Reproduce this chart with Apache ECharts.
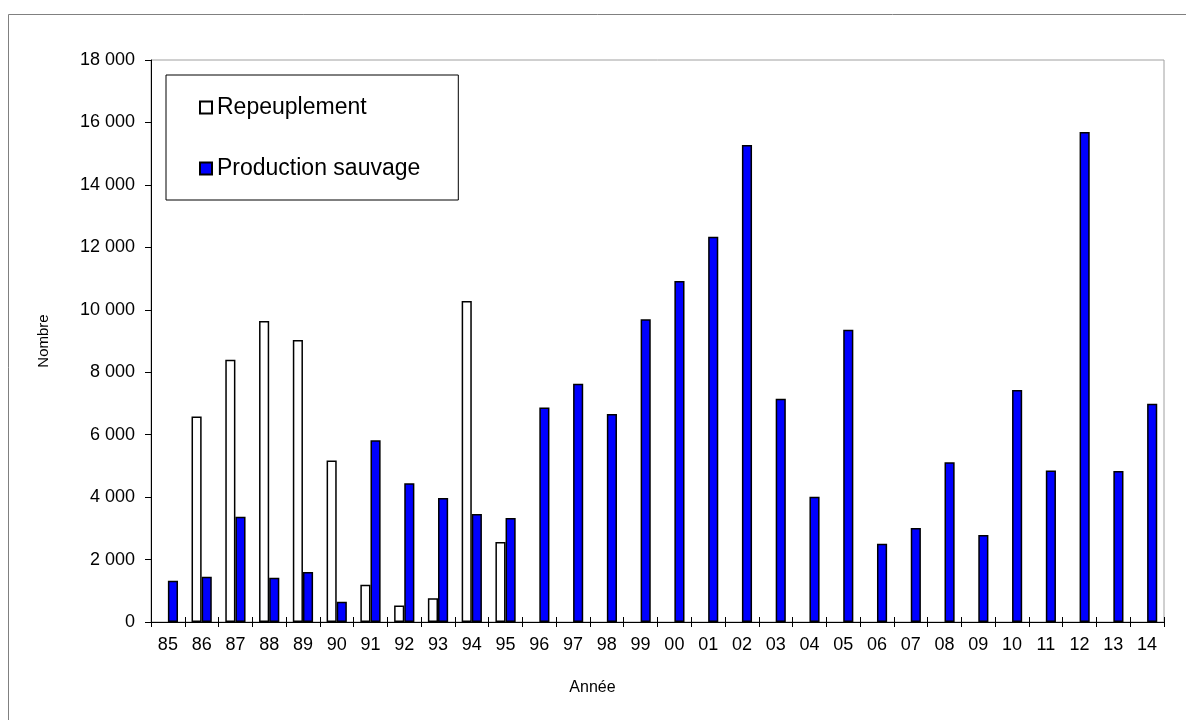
<!DOCTYPE html>
<html>
<head>
<meta charset="utf-8">
<script src="https://cdn.jsdelivr.net/npm/echarts@6/dist/echarts.min.js"></script>
<style>
  html, body { margin: 0; padding: 0; background: #fff; }
  #main { width: 1186px; height: 720px; }
</style>
</head>
<body>
<div id="main"></div>
<script>
// années (axe des x)
const annees = ['85', '86', '87', '88', '89', '90', '91', '92', '93', '94', '95', '96', '97', '98', '99',
  '00', '01', '02', '03', '04', '05', '06', '07', '08', '09', '10', '11', '12', '13', '14']
// repeuplement (absent après 95)
const repeuplement = [null, 6580, 8400, 9640, 9030, 5170, 1190, 530, 760, 10280, 2560,
  null, null, null, null, null, null, null, null, null, null, null, null, null, null, null, null, null, null, null]
// production sauvage
const productionSauvage = [1320, 1450, 3370, 1420, 1600, 650, 5820, 4440, 3970, 3460, 3330,
  6870, 7630, 6660, 9700, 10920, 12340, 15280, 7150, 4010, 9360, 2510, 3010, 5120, 2790,
  7430, 4850, 15690, 4840, 6990]

const font = 'Liberation Sans, Arial, sans-serif'
// séparateur de milliers avec espace
const fmt = v => String(v).replace(/\B(?=(\d{3})+(?!\d))/g, ' ')

const myChart = echarts.init(document.getElementById('main'))
const option = {
  animation: false,
  backgroundColor: '#fff',
  graphic: [
    {
      type: 'rect',
      shape: { x: 8.5, y: 14.5, width: 1200, height: 720 },
      style: { fill: 'none', stroke: '#808080', lineWidth: 1 },
      silent: true
    }
  ],
  legend: {
    left: 166,
    top: 75,
    orient: 'vertical',
    itemWidth: 12,
    itemHeight: 12,
    itemGap: 38,
    padding: [21, 38, 20, 33],
    borderColor: '#000',
    borderWidth: 1,
    icon: 'rect',
    textStyle: { fontFamily: font, fontSize: 23, color: '#000', lineHeight: 22 },
    data: ['Repeuplement', 'Production sauvage']
  },
  grid: {
    left: 151,
    right: 22,
    top: 60,
    bottom: 98,
    show: true,
    borderColor: '#a0a0a0',
    borderWidth: 1
  },
  xAxis: [
    {
      type: 'category',
      data: annees,
      name: 'Année',
      nameLocation: 'middle',
      nameGap: 58,
      nameTextStyle: { fontFamily: font, fontSize: 16, color: '#000', padding: [0, 130, 0, 0] },
      axisLine: { lineStyle: { color: '#000', width: 1 } },
      axisTick: { show: true, length: 5, lineStyle: { color: '#000' } },
      axisLabel: { fontFamily: font, fontSize: 18, color: '#000', margin: 14 }
    },
    {
      // traits de graduation côté intérieur
      type: 'category',
      data: annees,
      position: 'bottom',
      axisLine: { show: false },
      axisTick: { show: true, inside: true, length: 5, lineStyle: { color: '#000' } },
      axisLabel: { show: false }
    }
  ],
  yAxis: {
    type: 'value',
    min: 0,
    max: 18000,
    interval: 2000,
    name: 'Nombre',
    nameLocation: 'middle',
    nameRotate: 90,
    nameGap: 100,
    nameTextStyle: { fontFamily: font, fontSize: 15, color: '#000' },
    axisLine: { show: true, lineStyle: { color: '#000', width: 1 } },
    axisTick: { show: true, length: 6, lineStyle: { color: '#000' } },
    splitLine: { show: false },
    axisLabel: { fontFamily: font, fontSize: 18, color: '#000', margin: 16, formatter: fmt }
  },
  series: [
    {
      name: 'Repeuplement',
      type: 'bar',
      data: repeuplement,
      barGap: '0%',
      barCategoryGap: '40%',
      itemStyle: { color: '#fff', borderColor: '#000', borderWidth: 1.5 }
    },
    {
      name: 'Production sauvage',
      type: 'bar',
      data: productionSauvage,
      barGap: '0%',
      barCategoryGap: '40%',
      itemStyle: { color: '#0000ff', borderColor: '#000', borderWidth: 1.5 }
    }
  ]
}
option && myChart.setOption(option)
window.addEventListener('resize', () => {
  myChart.resize()
})
</script>
</body>
</html>
